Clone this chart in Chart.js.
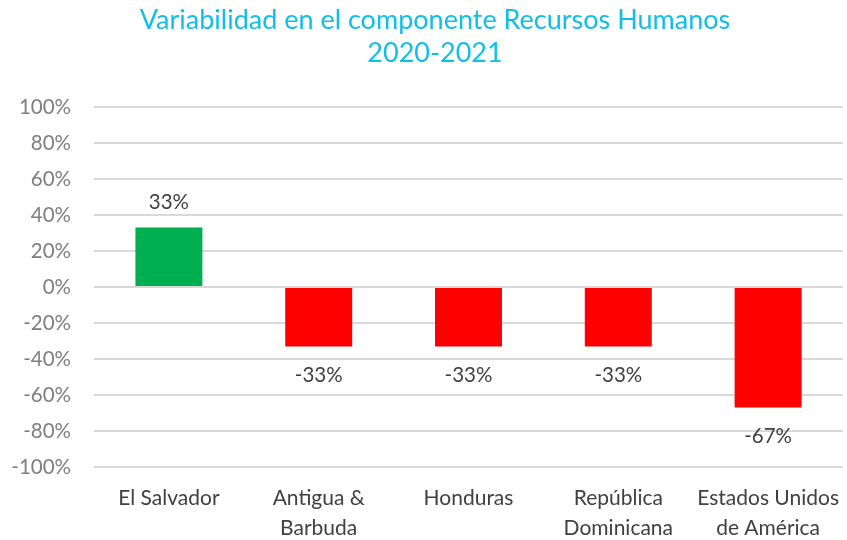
<!DOCTYPE html>
<html>
<head>
<meta charset="utf-8">
<script src="https://cdn.jsdelivr.net/npm/chart.js@4"></script>
<style>
html,body{margin:0;padding:0;background:#fff;}
#wrap{width:847px;height:540px;position:relative;}
</style>
</head>
<body>
<div id="wrap"><canvas id="c" width="847" height="540"></canvas></div>
<script>
const titleLines = ["Variabilidad en el componente Recursos Humanos", "2020-2021"];
const categories = [["El Salvador"], ["Antigua &", "Barbuda"], ["Honduras"], ["República", "Dominicana"], ["Estados Unidos", "de América"]];
const values = [0.33, -0.33, -0.33, -0.33, -0.67];
const valueLabels = ["33%", "-33%", "-33%", "-33%", "-67%"];
const yMin = -1, yMax = 1, yStep = 0.2;

const FONT = "Lato";

const labelPlugin = {
  id: 'labels',
  afterDatasetsDraw(chart) {
    const ctx = chart.ctx;
    const meta = chart.getDatasetMeta(0);
    ctx.save();
    ctx.font = "20.5px " + FONT;
    ctx.fillStyle = "#404040";
    ctx.textAlign = "center";
    ctx.textBaseline = "middle";
    meta.data.forEach((bar, i) => {
      const v = values[i];
      const y = v >= 0 ? bar.y - 25 : bar.y + 29;
      ctx.fillText(valueLabels[i], bar.x, y);
    });
    ctx.restore();
  },
  afterDraw(chart) {
    const ctx = chart.ctx;
    ctx.save();
    ctx.font = "27px " + FONT;
    ctx.fillStyle = "#10BFE8";
    ctx.textAlign = "center";
    ctx.textBaseline = "middle";
    ctx.fillText(titleLines[0], 435, 20);
    ctx.fillText(titleLines[1], 435, 53);
    ctx.restore();
  }
};

new Chart(document.getElementById('c'), {
  type: 'bar',
  data: {
    labels: categories,
    datasets: [{
      data: values,
      backgroundColor: values.map(v => v >= 0 ? '#00B050' : '#FF0000'),
      borderWidth: 0,
      barPercentage: 0.447,
      categoryPercentage: 1.0
    }]
  },
  options: {
    responsive: false,
    animation: false,
    devicePixelRatio: 1,
    layout: { padding: { top: 107, left: 12, right: -6, bottom: 0 } },
    plugins: { legend: { display: false }, tooltip: { enabled: false }, title: { display: false } },
    scales: {
      x: {
        grid: { display: false },
        border: { display: false },
        afterFit: s => { s.height = 73; },
        ticks: { color: '#404040', font: { family: FONT, size: 21, lineHeight: 1.43 }, padding: 8, maxRotation: 0, autoSkip: false }
      },
      y: {
        min: yMin, max: yMax,
        grid: { color: '#D9D9D9', lineWidth: 2, drawTicks: false },
        border: { display: false },
        afterFit: s => { s.width = 82; },
        ticks: {
          stepSize: yStep,
          color: '#7F7F7F',
          font: { family: FONT, size: 20.5 },
          padding: 23,
          callback: v => Math.round(v * 100) + '%'
        }
      }
    }
  },
  plugins: [labelPlugin]
});
</script>
</body>
</html>
